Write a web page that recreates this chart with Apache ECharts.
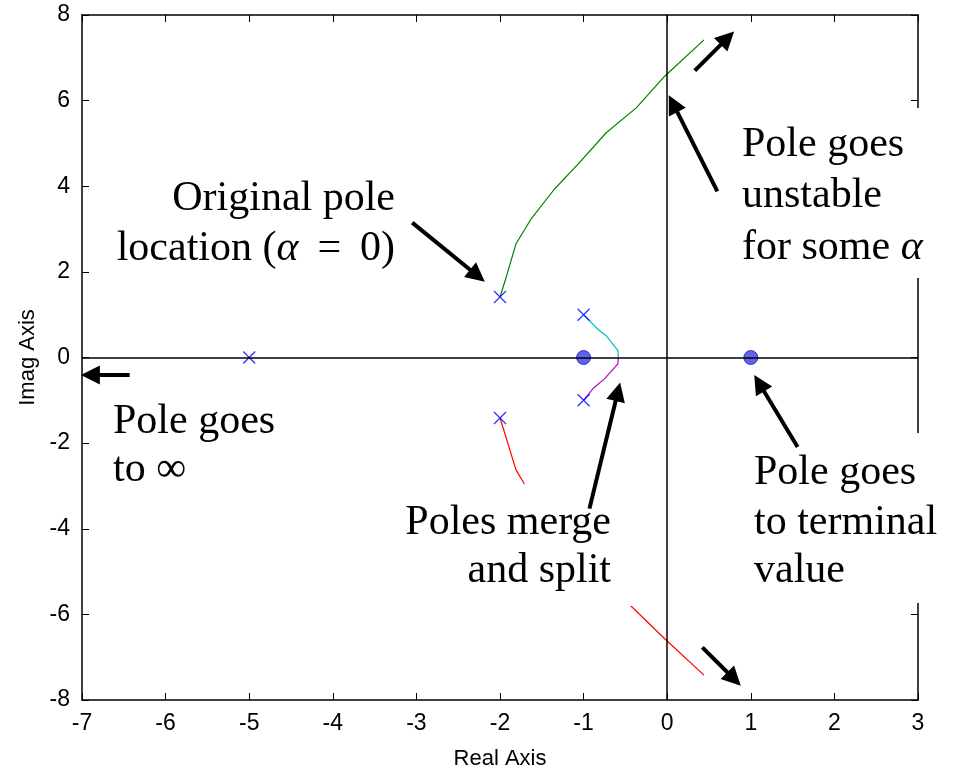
<!DOCTYPE html>
<html>
<head>
<meta charset="utf-8">
<script src="https://cdn.jsdelivr.net/npm/echarts@6/dist/echarts.min.js"></script>
<style>
  html, body { margin: 0; padding: 0; background: #ffffff; }
  #chart { width: 955px; height: 775px; }
</style>
</head>
<body>
<div id="chart"></div>
<script>
// Open-loop poles (x) and zeros (filled dots) in the s-plane
const poles = [[-5, 0], [-2, 1.414], [-2, -1.414], [-1, 1], [-1, -1]];
const zeros = [[-1, 0], [1, 0]];

// Root-locus branches traced as alpha grows
const branchUpper = [[-2, 1.414], [-1.97, 1.6], [-1.93, 1.85], [-1.81, 2.65], [-1.63, 3.23],
                     [-1.35, 3.93], [-1.05, 4.55], [-0.73, 5.25], [-0.37, 5.83], [-0.03, 6.57], [0.44, 7.42]];
const branchLower = [[-2, -1.414], [-1.97, -1.6], [-1.93, -1.85], [-1.81, -2.62], [-1.71, -2.95], [-1.63, -3.23],
                     [-1.35, -3.93], [-1.05, -4.55], [-0.73, -5.25], [-0.43, -5.81], [-0.03, -6.57], [0.44, -7.42]];
const branchMergeUp = [[-1, 1], [-0.83, 0.66], [-0.73, 0.51], [-0.59, 0.16], [-0.585, 0]];
const branchMergeDown = [[-0.585, 0], [-0.59, -0.15], [-0.75, -0.5], [-0.89, -0.73], [-1, -1]];

// Axis ranges and tick steps
const realRange = [-7, 3], realStep = 1;
const imagRange = [-8, 8], imagStep = 2;

// Annotation arrows: [tail, head] in axis units
const arrows = [
  [[-3.05, 3.15], [-2.27, 1.91]],
  [[0.60, 3.88], [0.07, 5.93]],
  [[0.33, 6.70], [0.72, 7.46]],
  [[-6.43, -0.41], [-6.90, -0.41]],
  [[-0.93, -3.53], [-0.59, -0.80]],
  [[1.56, -2.09], [1.10, -0.60]],
  [[0.42, -6.77], [0.80, -7.51]]
];

// Annotation text blocks
const notes = [
  { box: [115, 172, 290, 108], align: 'right', x: 395, lines: ['Original pole', 'location ({a|\u03b1} \u2009= \u20090)'], base: [212, 262] },
  { box: [730, 108, 225, 170], align: 'left', x: 742, lines: ['Pole goes', 'unstable', 'for some {a|\u03b1}'], base: [158, 209, 261] },
  { box: [100, 395, 190, 105], align: 'left', x: 113, lines: ['Pole goes', 'to \u221e'], base: [435, 483] },
  { box: [395, 484, 237, 122], align: 'right', x: 611, lines: ['Poles merge', 'and split'], base: [536, 584] },
  { box: [742, 433, 213, 170], align: 'left', x: 754, lines: ['Pole goes', 'to terminal', 'value'], base: [486, 536, 584] }
];

const serif = 'Liberation Serif, Times New Roman, serif';
const sans = 'Liberation Sans, Arial, sans-serif';

const graphicEls = [];
notes.forEach(n => {
  graphicEls.push({
    type: 'rect', z: 100, silent: true,
    shape: { x: n.box[0], y: n.box[1], width: n.box[2], height: n.box[3] },
    style: { fill: '#ffffff' }
  });
  n.lines.forEach((t, i) => {
    graphicEls.push({
      type: 'text', z: 101, silent: true,
      style: {
        text: t, x: n.x, y: n.base[i] - 13,
        textAlign: n.align, textVerticalAlign: 'middle',
        fontFamily: serif, fontSize: 42, fill: '#000',
        rich: { a: { fontFamily: serif, fontSize: 42, fontStyle: 'italic', fill: '#000' } }
      }
    });
  });
});

const chart = echarts.init(document.getElementById('chart'), null, { renderer: 'canvas' });

const commonX = { type: 'value', min: realRange[0], max: realRange[1], interval: realStep, splitLine: { show: false } };
const commonY = { type: 'value', min: imagRange[0], max: imagRange[1], interval: imagStep, splitLine: { show: false } };
const frameLine = { show: true, onZero: false, lineStyle: { color: '#000', width: 1.5 } };
const innerTick = { show: true, inside: true, length: 7, lineStyle: { color: '#000', width: 1 } };

chart.setOption({
  animation: false,
  backgroundColor: '#ffffff',
  grid: { left: 82, right: 37, top: 15, bottom: 73, containLabel: false },
  xAxis: [
    Object.assign({}, commonX, {
      position: 'bottom', axisLine: frameLine, axisTick: innerTick,
      axisLabel: { color: '#000', fontFamily: sans, fontSize: 23, margin: 12 },
      name: 'Real Axis', nameLocation: 'middle', nameGap: 48,
      nameTextStyle: { color: '#000', fontFamily: sans, fontSize: 22 }
    }),
    Object.assign({}, commonX, {
      position: 'top', axisLine: frameLine, axisTick: innerTick, axisLabel: { show: false }
    })
  ],
  yAxis: [
    Object.assign({}, commonY, {
      position: 'left', axisLine: frameLine, axisTick: innerTick,
      axisLabel: { color: '#000', fontFamily: sans, fontSize: 23, margin: 12 },
      name: 'Imag Axis', nameLocation: 'middle', nameGap: 40,
      nameTextStyle: { color: '#000', fontFamily: sans, fontSize: 22 }
    }),
    Object.assign({}, commonY, {
      position: 'right', axisLine: frameLine, axisTick: innerTick, axisLabel: { show: false }
    })
  ],
  graphic: { elements: graphicEls },
  series: [
    {
      name: 'axes', type: 'line', data: [], silent: true, z: 1,
      markLine: {
        silent: true, symbol: ['none', 'none'], label: { show: false },
        lineStyle: { color: '#000', type: 'solid', width: 1.5 },
        data: [{ xAxis: 0 }, { yAxis: 0 }]
      }
    },
    { name: 'upper', type: 'line', data: branchUpper, showSymbol: false, silent: true, z: 3,
      lineStyle: { color: '#008000', width: 1.2 } },
    { name: 'lower', type: 'line', data: branchLower, showSymbol: false, silent: true, z: 3,
      lineStyle: { color: '#ff0000', width: 1.2 } },
    { name: 'mergeUp', type: 'line', data: branchMergeUp, showSymbol: false, silent: true, z: 3,
      lineStyle: { color: '#00bfbf', width: 1.2 } },
    { name: 'mergeDown', type: 'line', data: branchMergeDown, showSymbol: false, silent: true, z: 3,
      lineStyle: { color: '#bf00bf', width: 1.2 } },
    { name: 'poles', type: 'scatter', data: poles, silent: true, z: 4,
      symbol: 'path://M0,0L10,10M10,0L0,10', symbolSize: 12,
      itemStyle: { color: 'none', borderColor: '#0000ff', borderWidth: 1.3 } },
    { name: 'zeros', type: 'scatter', data: zeros, silent: true, z: 4,
      symbol: 'circle', symbolSize: 14,
      itemStyle: { color: '#3a3ae6', borderColor: '#1c1cc0', borderWidth: 1 } },
    {
      name: 'arrows', type: 'lines', coordinateSystem: 'cartesian2d', silent: true, z: 200,
      symbol: ['none', 'triangle'], symbolSize: 19,
      lineStyle: { color: '#000', width: 4, opacity: 1, curveness: 0 },
      data: arrows.map(a => ({ coords: a }))
    }
  ]
});
</script>
</body>
</html>
